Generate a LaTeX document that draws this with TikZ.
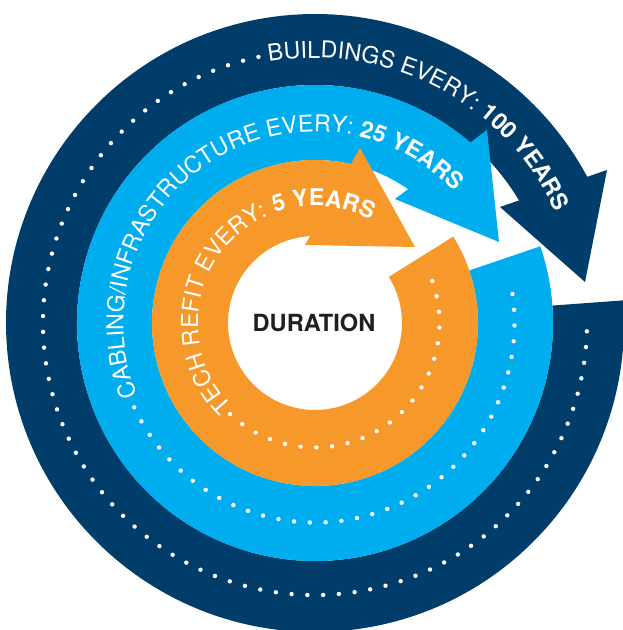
\documentclass[tikz,border=0pt]{standalone}
\usepackage{fontspec}
\setmainfont{TeX Gyre Heros}
\usetikzlibrary{decorations.text}
\definecolor{navy}{RGB}{0,61,106}
\definecolor{sky}{RGB}{0,173,238}
\definecolor{amber}{RGB}{246,152,42}
\definecolor{ink}{RGB}{35,31,32}
\newcommand{\ringfont}{\fontsize{11.6}{14}\selectfont}

\begin{document}
\begin{tikzpicture}[x=0.5pt,y=0.5pt,
  dots/.style={white,line width=2.2pt,line cap=round,dash pattern=on 0pt off 7.9pt},
  ringtext/.style={decorate,decoration={text along path,text color=white,text={#1}}}]
\useasboundingbox (-315,-307) rectangle (307,323);
% buildings
\fill[navy] (4.2:238) -- (4.2:309) arc[start angle=4.2,end angle=-332,radius=309]
  -- (-332:238) arc[start angle=-332,end angle=4.2,radius=238] -- cycle;
\fill[navy] (292,153) -- (270,41) -- (185,116) -- cycle;
% cabling
\fill[sky] (18.8:163) -- (18.8:238) arc[start angle=18.8,end angle=-311.5,radius=238]
  -- (-311.5:163) arc[start angle=-311.5,end angle=18.8,radius=163] -- cycle;
\fill[sky] (172,193) -- (184,81) -- (80,124) -- cycle;
% tech refit
\fill[amber] (32:87) -- (32:163) arc[start angle=32,end angle=-283.5,radius=163]
  -- (-283.5:87) arc[start angle=-283.5,end angle=32,radius=87] -- cycle;
\fill[amber] (45,175) -- (100,76) -- (-10,78) -- cycle;
% dotted tracks
\draw[dots] (102:272) arc[start angle=102,end angle=358.3,radius=272];
\draw[dots] (205:199.5) arc[start angle=205,end angle=371.8,radius=199.5];
\draw[dots] (227:124.5) arc[start angle=227,end angle=382.6,radius=124.5];
% labels
\path[ringtext={|\ringfont|BUILDINGS EVERY: |\ringfont\bfseries|100 YEARS}]
  (100:265) arc[start angle=100,end angle=0,radius=265];
\path[ringtext={|\ringfont|CABLING/INFRASTRUCTURE EVERY: |\ringfont\bfseries|25 YEARS}]
  (202.2:191.5) arc[start angle=202.2,end angle=15,radius=191.5];
\path[ringtext={|\ringfont|TECH REFIT EVERY: |\ringfont\bfseries|5 YEARS}]
  (225:117) arc[start angle=225,end angle=35,radius=117];
\node[font=\bfseries\fontsize{11.8}{14}\selectfont,text=ink] (duration) at (-1,0) {DURATION};
\end{tikzpicture}
\end{document}
